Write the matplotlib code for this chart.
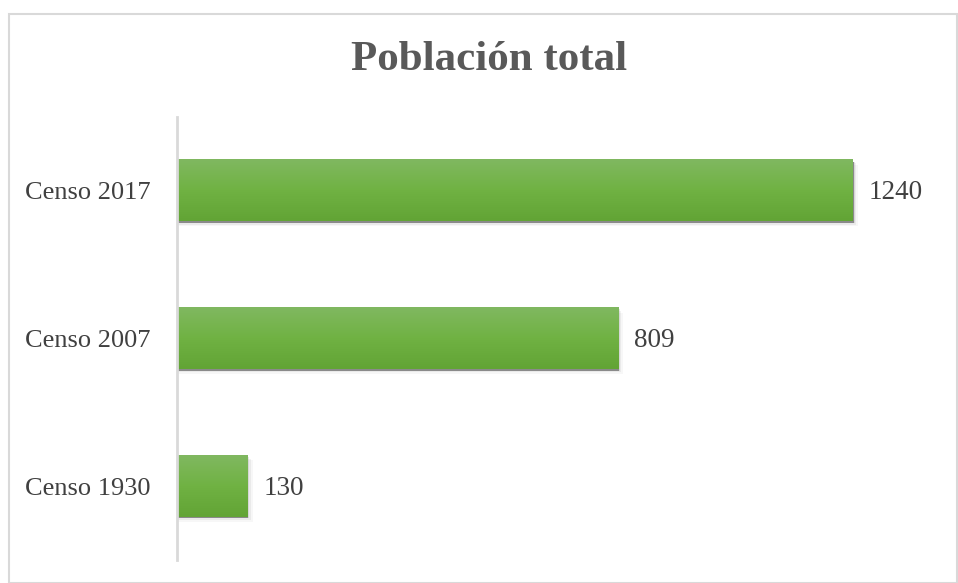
import matplotlib
matplotlib.use("Agg")
import matplotlib.pyplot as plt
import numpy as np
from matplotlib.colors import LinearSegmentedColormap
from matplotlib.patches import Rectangle

categories = ["Censo 1930", "Censo 2007", "Censo 2017"]
values = [130, 809, 1240]
title = "Población total"

W, H = 958, 583
fig = plt.figure(figsize=(W / 100, H / 100), dpi=100)
plt.rcParams['font.family'] = ['Liberation Serif', 'DejaVu Serif']

# outer border
fig.patches.append(Rectangle((9 / W, 0.5 / H), (W - 10) / W, (H - 14.5) / H,
                             transform=fig.transFigure, fill=False,
                             edgecolor='#d9d9d9', linewidth=1.5))

left, right = 177, 940
top, bottom = 117, 560
ax = fig.add_axes([left / W, 1 - bottom / H, (right - left) / W, (bottom - top) / H])
xmax = 1240 * (right - left) / (853 - 177)
ax.set_xlim(0, xmax)
ax.set_ylim(-0.5, len(categories) - 0.5)

cmap = LinearSegmentedColormap.from_list('g', ['#62a435', '#70b243', '#80b860'])
grad = np.linspace(0, 1, 64).reshape(-1, 1)
bh = 0.415
px_x = xmax / (right - left)
px_y = 3 / (bottom - top)
for i, v in enumerate(values):
    # soft shadow
    for k, a in [(3, 0.06), (2, 0.10), (1, 0.18)]:
        ax.add_patch(Rectangle((0, i - bh / 2 - k * px_y * 1.6), v + k * px_x * 1.6, bh,
                               facecolor='#808080', alpha=a, edgecolor='none', zorder=1))
    ax.add_patch(Rectangle((0, i - bh / 2 - 1.5 * px_y), v + 0.5 * px_x, bh,
                           facecolor='#8a8a8a', edgecolor='none', zorder=1.5))
    ax.imshow(grad, cmap=cmap, aspect='auto', extent=(0, v, i - bh / 2, i + bh / 2),
              origin='lower', zorder=2, interpolation='bilinear')
    ax.text(v + 16 * px_x, i - 2 * px_y, str(v), va='center', ha='left', fontsize=19.5,
            color='#404040')

ax.set_yticks(range(len(categories)))
ax.set_yticklabels(categories, fontsize=19, color='#404040')
for lbl in ax.get_yticklabels():
    lbl.set_y(lbl.get_position()[1])
ax.tick_params(axis='y', length=0, pad=19)
ax.set_xticks([])
for s in ['top', 'right', 'bottom']:
    ax.spines[s].set_visible(False)
ax.spines['left'].set_color('#d9d9d9')
ax.spines['left'].set_linewidth(2)
ax.spines['left'].set_zorder(3)
ax.set_facecolor('none')

fig.text(489 / W, 1 - 60 / H, title, ha='center', va='center',
         fontsize=31, fontweight='bold', color='#595959')

fig.savefig('out.png', dpi=100)
